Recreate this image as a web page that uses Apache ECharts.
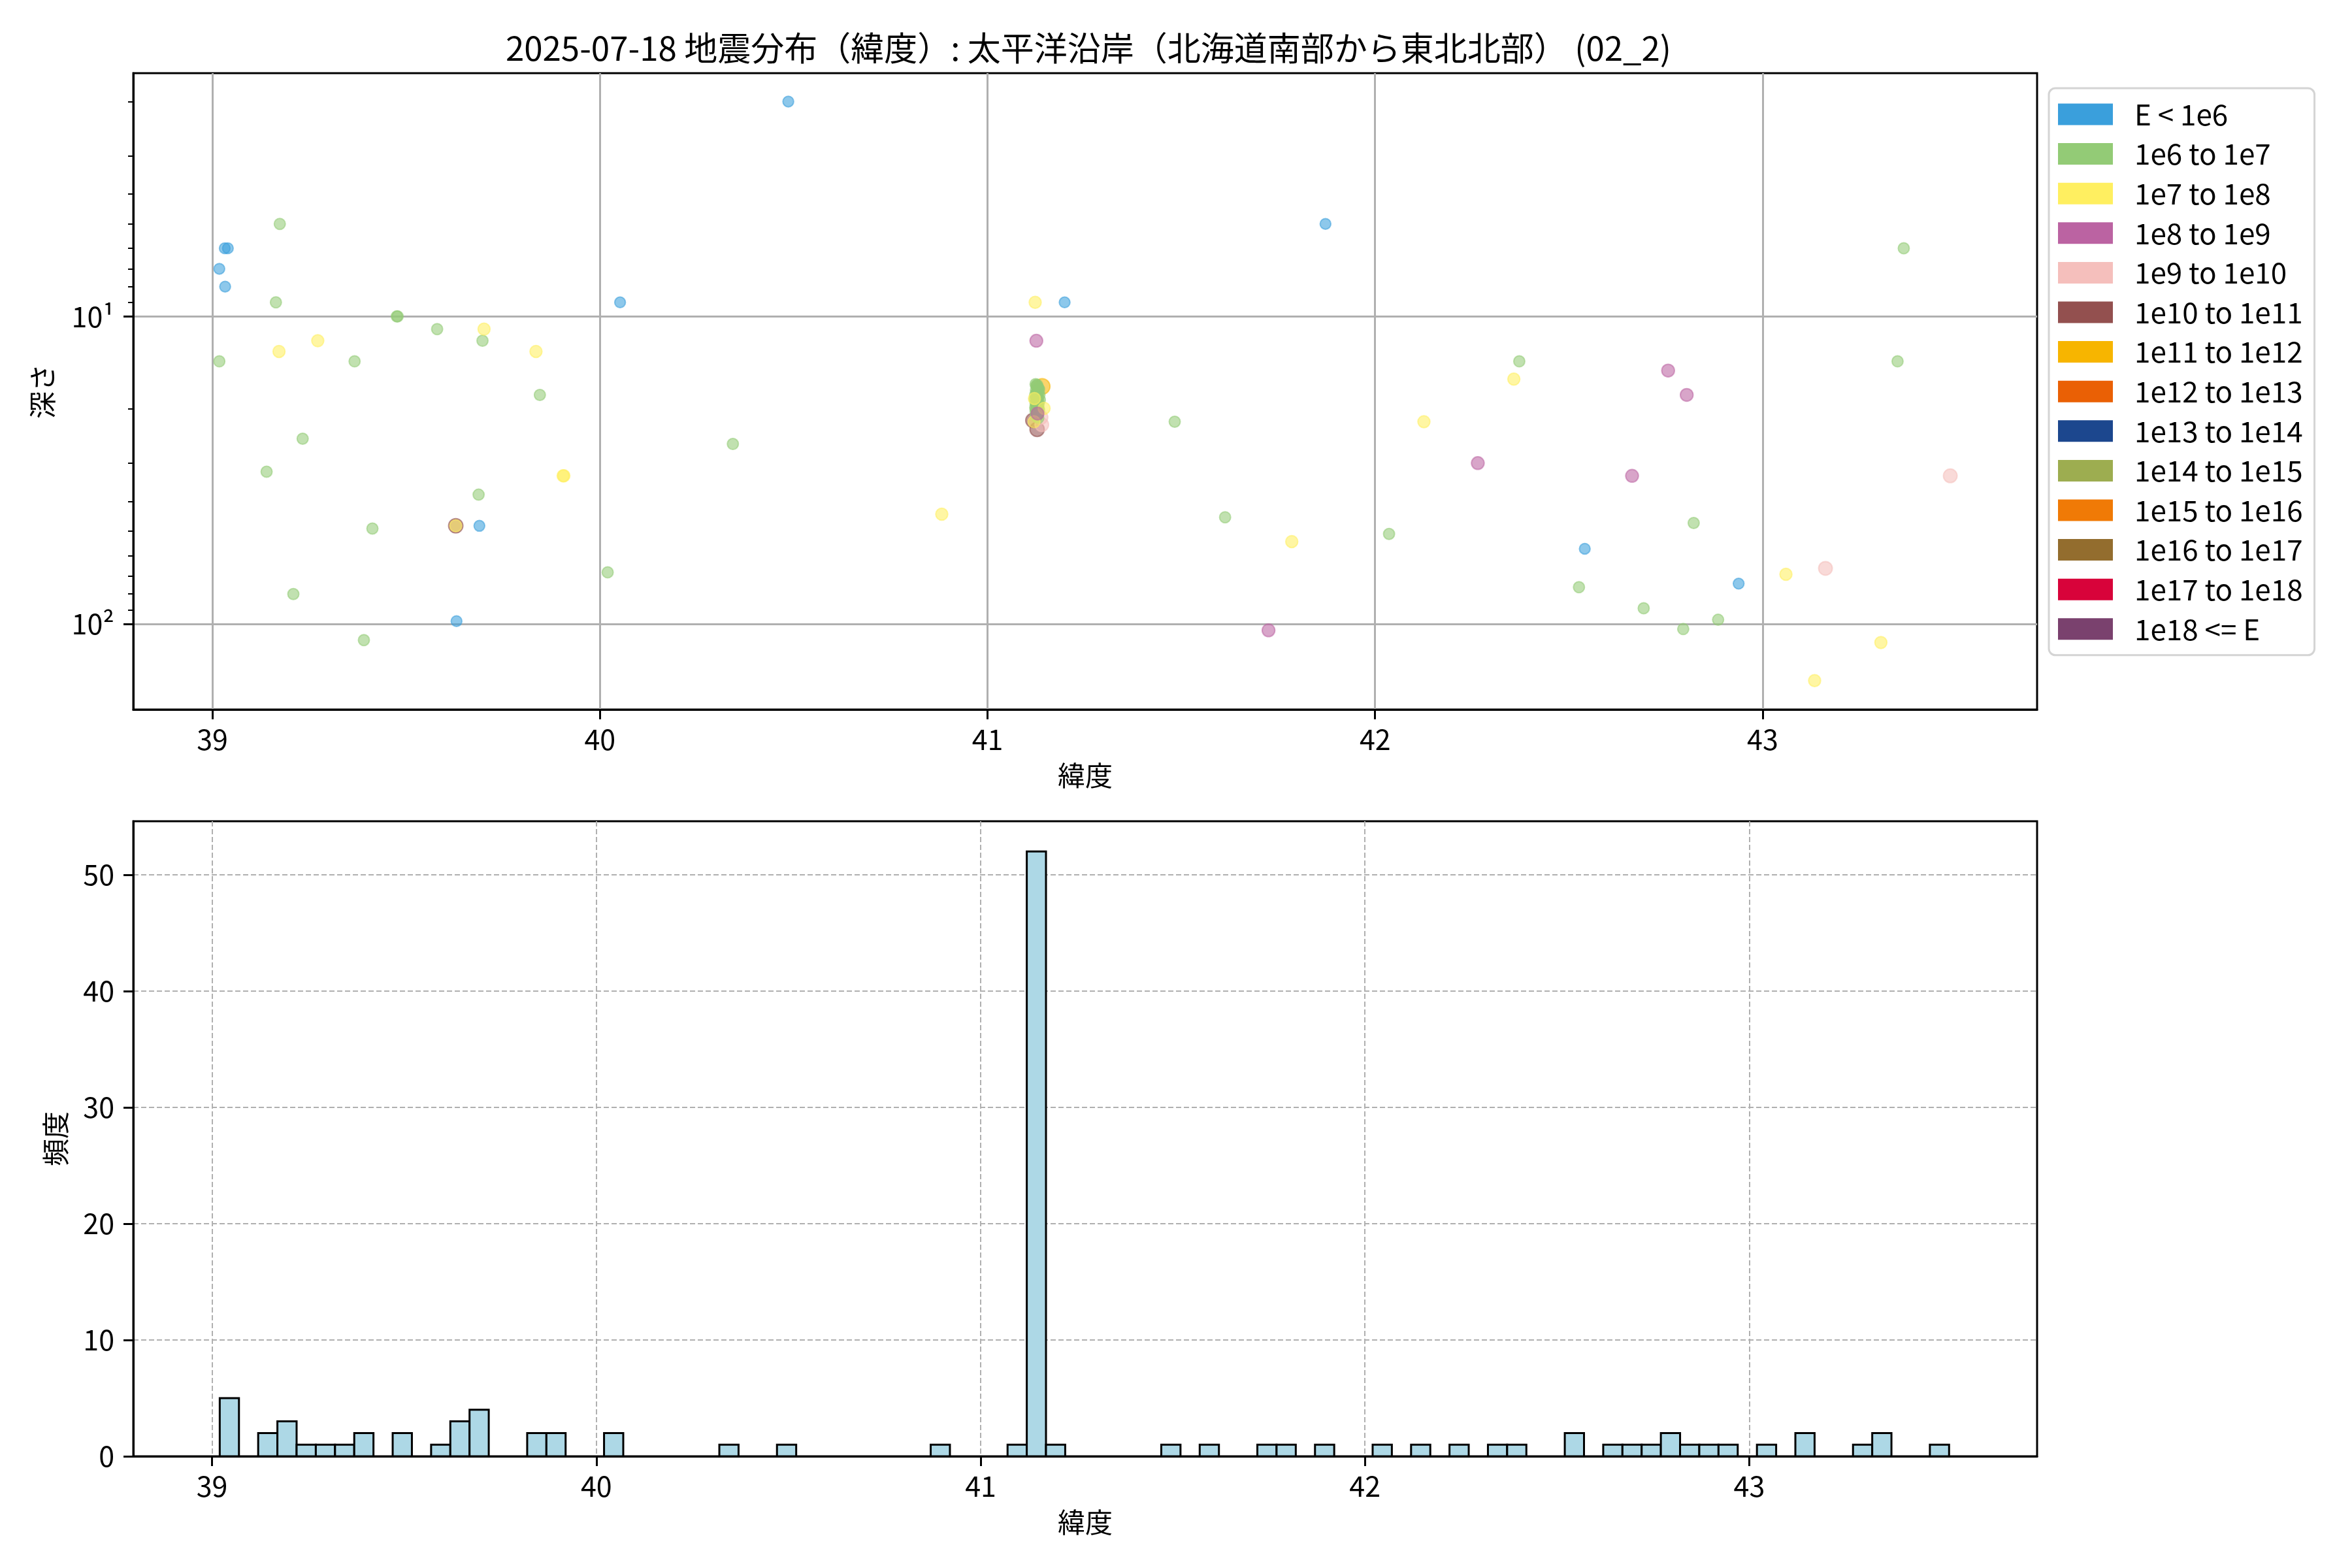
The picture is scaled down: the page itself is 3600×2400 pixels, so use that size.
<!DOCTYPE html>
<html><head><meta charset="utf-8">
<script src="https://cdn.jsdelivr.net/npm/echarts@6/dist/echarts.min.js"></script>
<style>html,body{margin:0;padding:0;background:#fff}#c{width:3600px;height:2400px}</style>
</head><body><div id="c"></div>
<script>
// ---- energy classes (legend) ----
const classNames = ['E < 1e6','1e6 to 1e7','1e7 to 1e8','1e8 to 1e9','1e9 to 1e10','1e10 to 1e11','1e11 to 1e12','1e12 to 1e13','1e13 to 1e14','1e14 to 1e15','1e15 to 1e16','1e16 to 1e17','1e17 to 1e18','1e18 <= E'];
const classColors = ['#3A9FDC','#93CB76','#FFEF60','#BB63A2','#F5BFBC','#93504F','#F7B500','#EA6005','#1C478E','#9DAD50','#F07A06','#936D2E','#D8033A','#7A416E'];
const classSizes = [16.5,17,18.5,19.5,21,22,24,25,26,27,28,29,30,31];

// ---- earthquakes: latitude, depth (km), energy class index ----
const eqLat = [
  // E < 1e6
  39.032,39.040,39.018,39.033,39.689,39.630,40.052,40.486,41.199,41.872,42.541,42.938,
  // 1e6 to 1e7
  39.174,39.164,39.476,39.478,39.580,39.697,39.018,39.367,39.845,39.233,39.140,39.687,39.413,40.020,39.209,39.391,40.343,41.483,41.613,42.036,42.372,42.822,42.526,42.693,42.885,42.795,43.364,43.348,
  41.124,41.126,41.128,41.130,41.132,41.125,41.127,41.129,41.131,41.133,41.123,41.126,41.128,41.130,41.134,41.122,41.125,41.127,41.129,41.131,41.124,41.126,41.128,41.130,41.132,41.135,41.123,41.125,41.127,41.129,41.131,41.124,41.126,41.128,41.130,41.133,41.125,41.127,41.129,41.131,41.126,41.128,
  // 1e7 to 1e8
  39.701,39.272,39.172,39.835,39.907,39.905,39.628,40.882,41.123,41.785,42.126,42.358,43.060,43.134,43.305,41.146,41.121,41.120,
  // 1e8 to 1e9
  41.126,41.725,42.265,42.756,42.804,42.663,41.129,
  // 1e9 to 1e10
  43.484,43.162,41.138,41.140,
  // 1e10 to 1e11
  39.628,41.117,41.128,
  // 1e11 to 1e12
  41.141
];
const eqDepth = [
  6.0,6.0,7.0,8.0,48,98,9.0,2.0,9.0,5.0,57,74,
  5.0,9.0,10.0,10.0,11.0,12.0,14.0,14.0,18.0,25,32,38,49,68,80,113,26,22,45,51,14,47,76,89,97,104,6.0,14.0,
  16.6,16.8,16.7,17.0,17.2,17.4,17.6,17.5,17.8,17.3,18.0,18.2,18.1,18.4,18.0,18.6,18.8,18.5,19.0,18.9,19.2,19.4,19.1,19.5,19.3,18.7,19.8,20.0,19.7,20.2,19.9,20.4,20.6,20.3,20.8,20.1,21.0,21.2,20.9,21.4,17.9,16.9,
  11,12,13,13,33,33,48,44,9.0,54,22,16,69,153,115,19.9,18.5,22.0,
  12,105,30,15,18,33,20.7,
  33,66,21.3,22.5,
  48,21.8,23.3,
  16.9
];
const eqClass = [
  0,0,0,0,0,0,0,0,0,0,0,0,
  1,1,1,1,1,1,1,1,1,1,1,1,1,1,1,1,1,1,1,1,1,1,1,1,1,1,1,1,
  1,1,1,1,1,1,1,1,1,1,1,1,1,1,1,1,1,1,1,1,1,1,1,1,1,1,1,1,1,1,1,1,1,1,1,1,1,1,1,1,1,1,
  2,2,2,2,2,2,2,2,2,2,2,2,2,2,2,2,2,2,
  3,3,3,3,3,3,3,
  4,4,4,4,
  5,5,5,
  6
];

// ---- histogram (non-empty bins, bin width 0.05) ----
const histBinStart = [39.02,39.12,39.17,39.22,39.27,39.32,39.37,39.47,39.57,39.62,39.67,39.82,39.87,40.02,40.32,40.47,40.87,41.07,41.12,41.17,41.47,41.57,41.72,41.77,41.87,42.02,42.12,42.22,42.32,42.37,42.52,42.62,42.67,42.72,42.77,42.82,42.87,42.92,43.02,43.12,43.27,43.32,43.47];
const histCount    = [5,2,3,1,1,1,2,2,1,3,4,2,2,2,1,1,1,1,52,1,1,1,1,1,1,1,1,1,1,1,2,1,1,1,2,1,1,1,1,2,1,2,1];
const histBinWidth = 0.05;

// ---- tick values ----
const latTicks = [39,40,41,42,43];
const depthTicks = [10,100];
const depthMinorTicks = [2,3,4,5,6,7,8,9,20,30,40,50,60,70,80,90];
const countTicks = [0,10,20,30,40,50];

const FONT = '"Noto Sans CJK JP","Noto Sans",sans-serif';
function rgba(hex,a){const n=parseInt(hex.slice(1),16);return 'rgba('+((n>>16)&255)+','+((n>>8)&255)+','+(n&255)+','+a+')';}
const sup = {1:'¹',2:'²',0:'⁰',3:'³'};

const drawOrder = [6,5,4,1,2,0,3,7,8,9,10,11,12,13];
const scatterSeries = drawOrder.map(ci => ({
  name: classNames[ci],
  type: 'scatter',
  xAxisIndex: 0, yAxisIndex: 0,
  symbol: 'circle',
  symbolSize: classSizes[ci],
  itemStyle: {color: rgba(classColors[ci],0.72), borderColor: rgba(classColors[ci],0.7), borderWidth: 2},
  emphasis: {disabled: true},
  data: eqLat.map((v,i)=>[v,eqDepth[i],eqClass[i]]).filter(d=>d[2]===ci).map(d=>[d[0],d[1]])
}));

const histData = histBinStart.map((s,i)=>[s, s+histBinWidth, histCount[i]]);

const axisLabelBase = {color:'#000', fontSize:43, fontFamily:FONT};
const chart = echarts.init(document.getElementById('c'), null, {renderer:'canvas'});
chart.setOption({
  animation: false,
  backgroundColor: '#fff',
  title: {
    text: '2025-07-18 地震分布（緯度）: 太平洋沿岸（北海道南部から東北北部） (02_2)',
    left: 1661, top: 43, textAlign: 'center',
    textStyle: {fontSize: 51, fontWeight: 'normal', color: '#000', fontFamily: FONT}
  },
  legend: {
    orient: 'vertical', left: 3136, top: 135,
    padding: [18, 18, 18, 14],
    itemWidth: 84, itemHeight: 33, itemGap: 16.6,
    icon: 'rect', selectedMode: false,
    borderColor: '#d4d4d4', borderWidth: 3, borderRadius: 10, backgroundColor: '#fff',
    textStyle: {fontSize: 44, lineHeight: 42, color: '#000', fontFamily: FONT, padding: [0,0,0,28]},
    data: classNames.map((n,i)=>({name:n, itemStyle:{color:classColors[i], borderWidth:0, opacity:1}}))
  },
  grid: [
    {left: 204, top: 112, width: 2914, height: 974, show: true, borderColor: '#000', borderWidth: 3, backgroundColor: 'transparent'},
    {left: 204, top: 1257, width: 2914, height: 972, show: true, borderColor: '#000', borderWidth: 3, backgroundColor: 'transparent'}
  ],
  xAxis: [
    {type:'value', gridIndex:0, min:38.796, max:43.708,
     name:'緯度', nameLocation:'middle', nameGap:80, nameTextStyle:{fontSize:42, color:'#000', fontFamily:FONT},
     axisLine:{show:true, lineStyle:{color:'#000', width:3}},
     axisTick:{show:true, length:15, lineStyle:{color:'#000', width:3}, customValues: latTicks},
     axisLabel:Object.assign({margin:24, customValues: latTicks}, axisLabelBase),
     splitLine:{show:true, lineStyle:{color:'#b0b0b0', width:3}}},
    {type:'value', gridIndex:1, min:38.795, max:43.749,
     name:'緯度', nameLocation:'middle', nameGap:80, nameTextStyle:{fontSize:42, color:'#000', fontFamily:FONT},
     axisLine:{show:true, lineStyle:{color:'#000', width:3}},
     axisTick:{show:true, length:15, lineStyle:{color:'#000', width:3}, customValues: latTicks},
     axisLabel:Object.assign({margin:24, customValues: latTicks}, axisLabelBase),
     splitLine:{show:true, lineStyle:{color:'#b0b0b0', width:2, type:[8,4]}}}
  ],
  yAxis: [
    {type:'log', logBase:10, gridIndex:0, position:'left', inverse:true, min:1.617, max:190,
     name:'深さ', nameLocation:'middle', nameGap:118, nameTextStyle:{fontSize:42, color:'#000', fontFamily:FONT},
     axisLine:{show:true, lineStyle:{color:'#000', width:3}},
     axisTick:{show:true, length:15, lineStyle:{color:'#000', width:3}, customValues: depthTicks},
     axisLabel:Object.assign({margin:29, customValues: depthTicks,
        formatter: v => '10' + sup[Math.round(Math.log10(v))]}, axisLabelBase),
     splitLine:{show:true, lineStyle:{color:'#b0b0b0', width:3}}},
    {type:'log', logBase:10, gridIndex:0, position:'left', offset:0, inverse:true, min:1.617, max:190,
     axisLine:{show:false},
     axisTick:{show:true, length:8, lineStyle:{color:'#000', width:2}, customValues: depthMinorTicks},
     axisLabel:{show:false},
     splitLine:{show:false}},
    {type:'value', gridIndex:1, position:'left', min:0, max:54.6, interval:10,
     name:'頻度', nameLocation:'middle', nameGap:98, nameTextStyle:{fontSize:42, color:'#000', fontFamily:FONT},
     axisLine:{show:true, lineStyle:{color:'#000', width:3}},
     axisTick:{show:true, length:15, lineStyle:{color:'#000', width:3}, customValues: countTicks},
     axisLabel:Object.assign({margin:29, customValues: countTicks}, axisLabelBase),
     splitLine:{show:true, lineStyle:{color:'#b0b0b0', width:2, type:[8,4]}}}
  ],
  series: scatterSeries.concat([{
    type: 'custom', name: 'hist', xAxisIndex: 1, yAxisIndex: 2,
    dimensions: ['x0','x1','count'],
    encode: {x: [0,1], y: 2},
    renderItem: function(params, api){
      const p0 = api.coord([api.value(0), 0]);
      const p1 = api.coord([api.value(1), api.value(2)]);
      return {type:'rect', shape:{x:p0[0], y:p1[1], width:p1[0]-p0[0], height:p0[1]-p1[1]},
              style:{fill:'#ADD8E6', stroke:'#000', lineWidth:3}};
    },
    data: histData
  }])
});
</script></body></html>
